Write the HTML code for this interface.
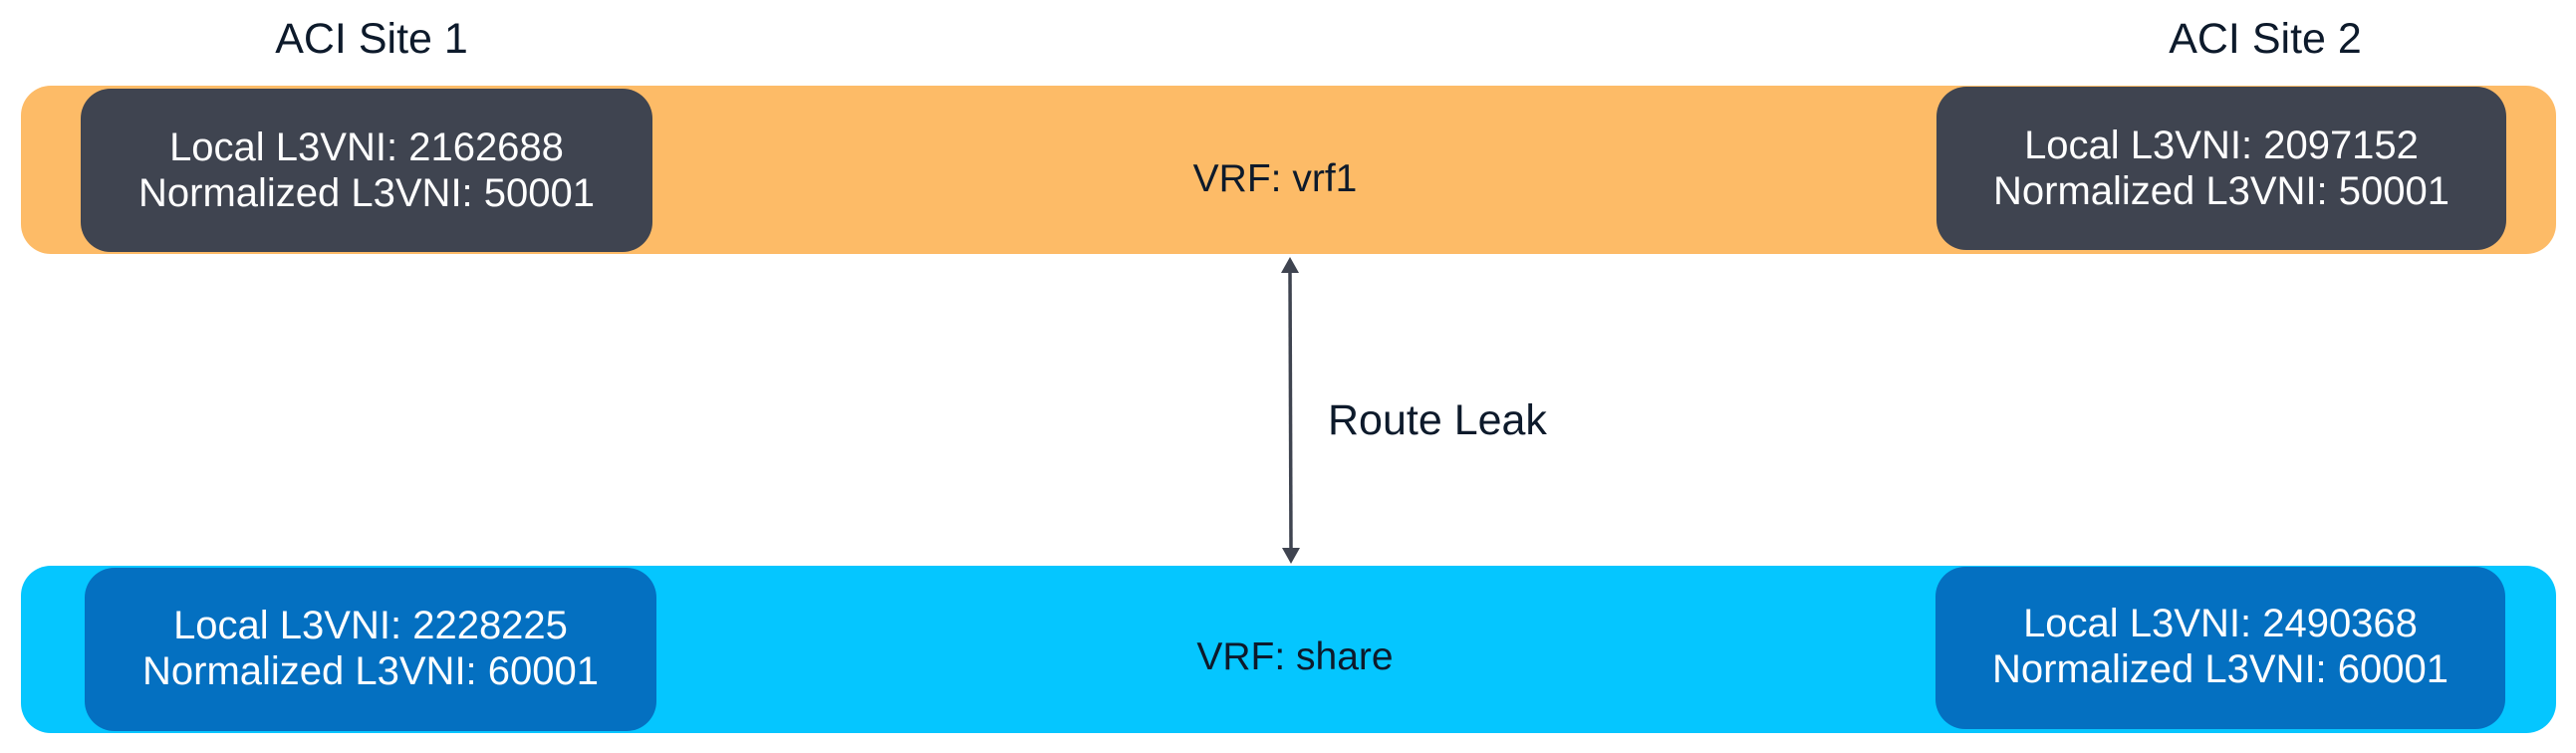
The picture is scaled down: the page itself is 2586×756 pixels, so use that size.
<!DOCTYPE html>
<html><head><meta charset="utf-8"><style>
html,body{margin:0;padding:0;background:#fff;}
svg{display:block;}
text{font-family:"Liberation Sans",Arial,sans-serif;}
</style></head><body>
<svg width="2586" height="756" viewBox="0 0 2586 756" xmlns="http://www.w3.org/2000/svg">
<text x="373" y="53" font-size="43" fill="#0d1a2b" text-anchor="middle">ACI Site 1</text>
<text x="2274" y="53" font-size="43" fill="#0d1a2b" text-anchor="middle">ACI Site 2</text>

<rect x="21" y="86" width="2545" height="169" rx="30" fill="#FDBB67"/>
<rect x="21" y="568" width="2545" height="168" rx="30" fill="#05C6FF"/>

<rect x="81" y="89" width="574" height="164" rx="30" fill="#3F4450"/>
<text x="368" y="161" font-size="40" fill="#fff" text-anchor="middle">Local L3VNI: 2162688</text>
<text x="368" y="207" font-size="40" fill="#fff" text-anchor="middle">Normalized L3VNI: 50001</text>

<rect x="1944" y="87" width="572" height="164" rx="30" fill="#3F4450"/>
<text x="2230" y="159" font-size="40" fill="#fff" text-anchor="middle">Local L3VNI: 2097152</text>
<text x="2230" y="205" font-size="40" fill="#fff" text-anchor="middle">Normalized L3VNI: 50001</text>

<rect x="85" y="570" width="574" height="164" rx="30" fill="#0470C1"/>
<text x="372" y="641" font-size="40" fill="#fff" text-anchor="middle">Local L3VNI: 2228225</text>
<text x="372" y="687" font-size="40" fill="#fff" text-anchor="middle">Normalized L3VNI: 60001</text>

<rect x="1943" y="569" width="572" height="163" rx="30" fill="#0470C1"/>
<text x="2229" y="639" font-size="40" fill="#fff" text-anchor="middle">Local L3VNI: 2490368</text>
<text x="2229" y="685" font-size="40" fill="#fff" text-anchor="middle">Normalized L3VNI: 60001</text>

<text x="1280" y="192" font-size="39" fill="#0d1a2b" text-anchor="middle">VRF: vrf1</text>
<text x="1300" y="672" font-size="39" fill="#0d1a2b" text-anchor="middle">VRF: share</text>

<line x1="1295" y1="272" x2="1296" y2="552" stroke="#3F4450" stroke-width="3.5"/>
<polygon points="1295,258 1286,274 1304,274" fill="#3F4450"/>
<polygon points="1296,566 1287,550 1305,550" fill="#3F4450"/>
<text x="1333" y="436" font-size="43" fill="#0d1a2b">Route Leak</text>
</svg>
</body></html>
